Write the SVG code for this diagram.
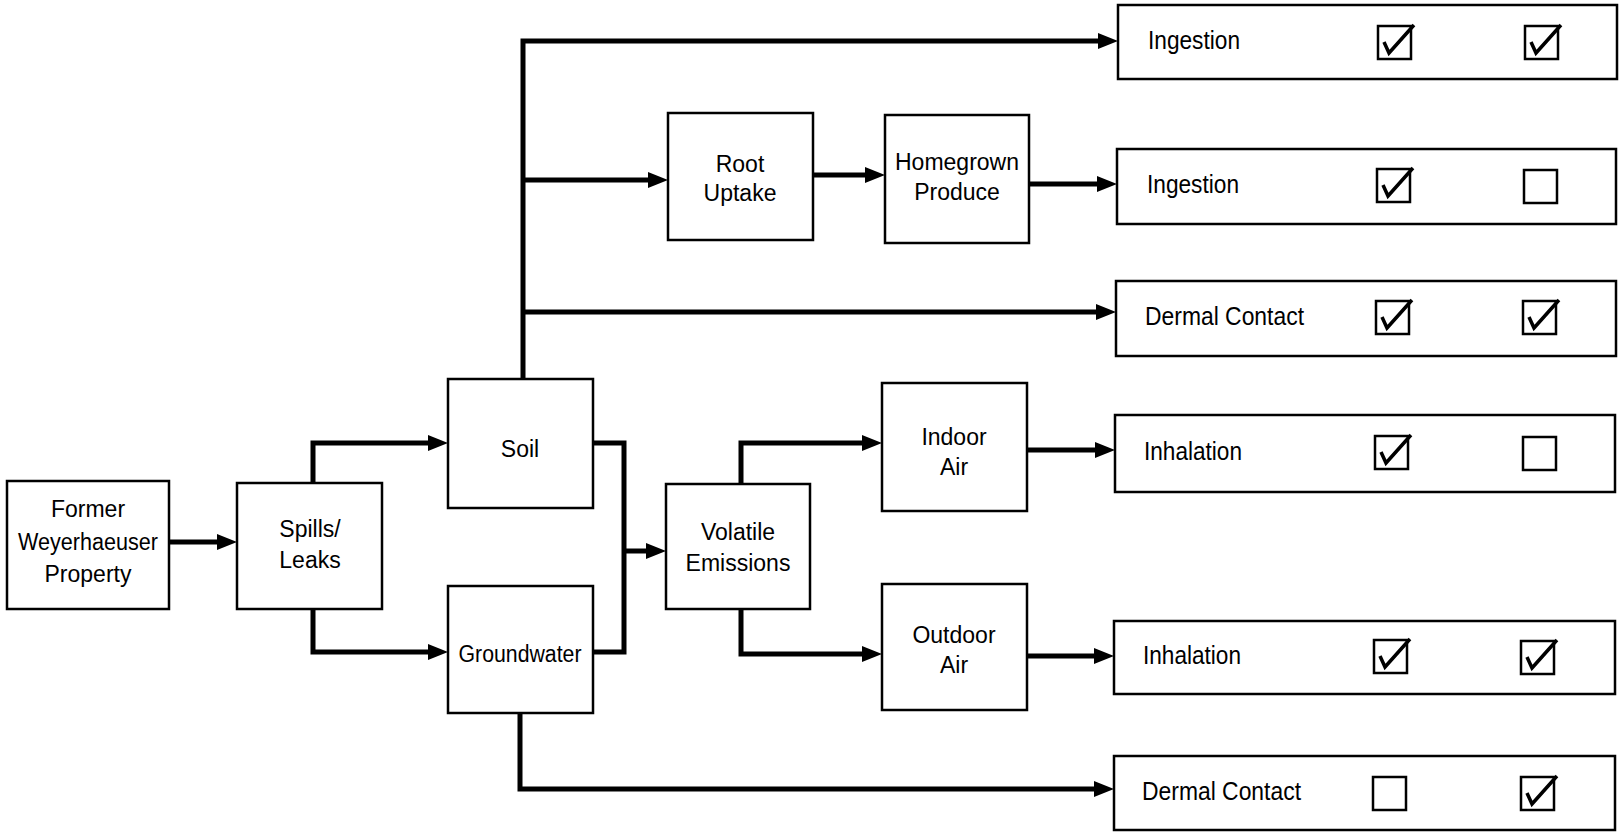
<svg xmlns="http://www.w3.org/2000/svg" xmlns:xlink="http://www.w3.org/1999/xlink" width="1620" height="837" viewBox="0 0 1620 837">
<style>
.box{fill:#fff;stroke:#000;stroke-width:2.5}
.cb{fill:#fff;stroke:#000;stroke-width:2.5}
.chk{fill:none;stroke:#000;stroke-width:3.5;stroke-linejoin:miter;stroke-linecap:butt}
.lt{font-family:"Liberation Sans",Arial,sans-serif;font-size:23px;fill:#000;text-anchor:middle}
.rt{font-family:"Liberation Sans",Arial,sans-serif;font-size:26px;fill:#000}
.conn{fill:none;stroke:#000;stroke-width:5;stroke-linejoin:miter}
</style>
<defs>
<marker id="ah" viewBox="0 0 20 16" markerWidth="20" markerHeight="16" markerUnits="userSpaceOnUse" refX="2" refY="8" orient="auto">
<path d="M0,0 L20,8 L0,16 z" fill="#000"/>
</marker>
<g id="ck"><rect class="cb" x="0" y="0" width="33" height="33"/><path class="chk" d="M6,16 L11,27 L36,-1"/></g>
<g id="ub"><rect class="cb" x="0" y="0" width="33" height="33"/></g>
</defs>
<rect width="1620" height="837" fill="#fff"/>

<g id="connectors">
<path class="conn" d="M169,542 H219" marker-end="url(#ah)"/>
<path class="conn" d="M313,483 V443 H430" marker-end="url(#ah)"/>
<path class="conn" d="M313,609 V652 H430" marker-end="url(#ah)"/>
<path class="conn" d="M593,443 H624 V652 H593"/>
<path class="conn" d="M624,551 H648" marker-end="url(#ah)"/>
<path class="conn" d="M741,484 V443 H864" marker-end="url(#ah)"/>
<path class="conn" d="M741,609 V654 H864" marker-end="url(#ah)"/>
<path class="conn" d="M1027,450 H1097" marker-end="url(#ah)"/>
<path class="conn" d="M1027,656 H1096" marker-end="url(#ah)"/>
<path class="conn" d="M523,399 V41 H1100" marker-end="url(#ah)"/>
<path class="conn" d="M523,180 H650" marker-end="url(#ah)"/>
<path class="conn" d="M813,175 H867" marker-end="url(#ah)"/>
<path class="conn" d="M1029,184 H1099" marker-end="url(#ah)"/>
<path class="conn" d="M523,312 H1098" marker-end="url(#ah)"/>
<path class="conn" d="M520,713 V789 H1096" marker-end="url(#ah)"/>
</g>

<g id="former">
<rect class="box" x="7" y="481" width="162" height="128"/>
<text class="lt" x="88" y="517">Former</text>
<text class="lt" x="88" y="550" textLength="140" lengthAdjust="spacingAndGlyphs">Weyerhaeuser</text>
<text class="lt" x="88" y="582">Property</text>
</g>
<g id="spills">
<rect class="box" x="237" y="483" width="145" height="126"/>
<text class="lt" x="310" y="537">Spills/</text>
<text class="lt" x="310" y="568">Leaks</text>
</g>
<g id="soil">
<rect class="box" x="448" y="379" width="145" height="129"/>
<text class="lt" x="520" y="457">Soil</text>
</g>
<g id="groundwater">
<rect class="box" x="448" y="586" width="145" height="127"/>
<text class="lt" x="520" y="662" textLength="123" lengthAdjust="spacingAndGlyphs">Groundwater</text>
</g>
<g id="volatile">
<rect class="box" x="666" y="484" width="144" height="125"/>
<text class="lt" x="738" y="540">Volatile</text>
<text class="lt" x="738" y="571">Emissions</text>
</g>
<g id="root">
<rect class="box" x="668" y="113" width="145" height="127"/>
<text class="lt" x="740" y="172">Root</text>
<text class="lt" x="740" y="201">Uptake</text>
</g>
<g id="homegrown">
<rect class="box" x="885" y="115" width="144" height="128"/>
<text class="lt" x="957" y="170">Homegrown</text>
<text class="lt" x="957" y="200">Produce</text>
</g>
<g id="indoor">
<rect class="box" x="882" y="383" width="145" height="128"/>
<text class="lt" x="954" y="445">Indoor</text>
<text class="lt" x="954" y="475">Air</text>
</g>
<g id="outdoor">
<rect class="box" x="882" y="584" width="145" height="126"/>
<text class="lt" x="954" y="643">Outdoor</text>
<text class="lt" x="954" y="673">Air</text>
</g>

<g id="r1">
<rect class="box" x="1118" y="5" width="499" height="74"/>
<text class="rt" x="1148" y="49" textLength="92" lengthAdjust="spacingAndGlyphs">Ingestion</text>
<use xlink:href="#ck" x="1378" y="26"/>
<use xlink:href="#ck" x="1525" y="26"/>
</g>
<g id="r2">
<rect class="box" x="1117" y="149" width="499" height="75"/>
<text class="rt" x="1147" y="193" textLength="92" lengthAdjust="spacingAndGlyphs">Ingestion</text>
<use xlink:href="#ck" x="1377" y="169"/>
<use xlink:href="#ub" x="1524" y="170"/>
</g>
<g id="r3">
<rect class="box" x="1116" y="281" width="500" height="75"/>
<text class="rt" x="1145" y="325" textLength="159" lengthAdjust="spacingAndGlyphs">Dermal Contact</text>
<use xlink:href="#ck" x="1376" y="301"/>
<use xlink:href="#ck" x="1523" y="301"/>
</g>
<g id="r4">
<rect class="box" x="1115" y="415" width="500" height="77"/>
<text class="rt" x="1144" y="460" textLength="98" lengthAdjust="spacingAndGlyphs">Inhalation</text>
<use xlink:href="#ck" x="1375" y="436"/>
<use xlink:href="#ub" x="1523" y="437"/>
</g>
<g id="r5">
<rect class="box" x="1114" y="621" width="501" height="73"/>
<text class="rt" x="1143" y="664" textLength="98" lengthAdjust="spacingAndGlyphs">Inhalation</text>
<use xlink:href="#ck" x="1374" y="640"/>
<use xlink:href="#ck" x="1521" y="641"/>
</g>
<g id="r6">
<rect class="box" x="1114" y="756" width="501" height="74"/>
<text class="rt" x="1142" y="800" textLength="159" lengthAdjust="spacingAndGlyphs">Dermal Contact</text>
<use xlink:href="#ub" x="1373" y="777"/>
<use xlink:href="#ck" x="1521" y="777"/>
</g>
</svg>
